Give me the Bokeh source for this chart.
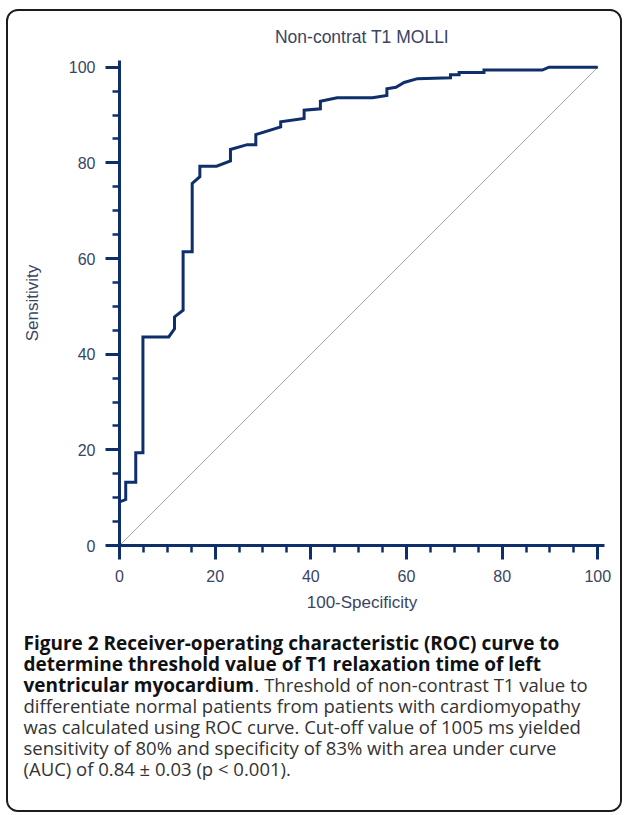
from bokeh.plotting import figure
from bokeh.layouts import column
from bokeh.models import Range1d, FixedTicker
from bokeh.core.properties import value
from bokeh.embed import file_html
from bokeh.resources import INLINE

# ---- data ----
fpr = [0, 0, 1.3, 1.3, 3.4, 3.4, 4.9, 4.9, 10.3, 11.5, 11.5, 13.3, 13.3, 15.2, 15.2,
       16.8, 16.8, 20.3, 23.2, 23.2, 26.7, 28.5, 28.5, 33.7, 33.7, 38.6, 38.6, 42.0,
       42.0, 45.5, 52.9, 55.9, 55.9, 57.8, 59.5, 62.3, 69.2, 69.2, 71.0, 71.0, 76.2,
       76.2, 88.4, 89.8, 100]
tpr = [0, 9.1, 9.6, 13.2, 13.2, 19.4, 19.4, 43.6, 43.6, 45.3, 47.8, 49.2, 61.4, 61.4,
       75.7, 77.1, 79.3, 79.3, 80.4, 82.8, 83.8, 83.8, 85.9, 87.5, 88.6, 89.3, 91.0,
       91.3, 92.9, 93.6, 93.6, 94.1, 95.5, 95.8, 96.8, 97.6, 97.8, 98.4, 98.4, 98.9,
       98.9, 99.4, 99.4, 100, 100]
diag_x = [0, 100]
diag_y = [0, 100]
major_ticks = [0, 20, 40, 60, 80, 100]
minor_ticks = list(range(0, 101, 5))

title_text = "Non-contrat T1 MOLLI"
x_label = "100-Specificity"
y_label = "Sensitivity"
caption_bold = [
    "Figure 2 Receiver-operating characteristic (ROC) curve to",
    "determine threshold value of T1 relaxation time of left",
    "ventricular myocardium",
]
caption_normal_line3 = ". Threshold of non-contrast T1 value to"
caption_normal = [
    "differentiate normal patients from patients with cardiomyopathy",
    "was calculated using ROC curve. Cut-off value of 1005 ms yielded",
    "sensitivity of 80% and specificity of 83% with area under curve",
    "(AUC) of 0.84 \u00b1 0.03 (p < 0.001).",
]

NAVY = "#0f2f6b"
TXT = "#3a4562"
AX_FONT = "Liberation Sans"
CAP_FONT = "Open Sans"

# ---------------- chart ----------------
p = figure(width=612, height=620, output_backend="svg", toolbar_location=None,
           x_range=Range1d(0, 101.4), y_range=Range1d(0, 101.4),
           min_border_left=111, min_border_right=16, min_border_top=49,
           min_border_bottom=86)

p.title.text = title_text
p.title.align = "center"
p.title.text_font = AX_FONT
p.title.text_font_size = "17.5px"
p.title.text_font_style = "normal"
p.title.text_color = TXT
p.title.standoff = 27
p.title.offset = -5

p.xgrid.visible = False
p.ygrid.visible = False
p.outline_line_color = None
p.background_fill_color = "white"
p.border_fill_color = "white"

for ax in (p.xaxis[0], p.yaxis[0]):
    ax.ticker = FixedTicker(ticks=major_ticks, minor_ticks=minor_ticks)
    ax.axis_line_color = NAVY
    ax.axis_line_width = 3
    ax.major_tick_line_color = NAVY
    ax.major_tick_line_width = 3
    ax.minor_tick_line_color = NAVY
    ax.minor_tick_line_width = 2.5
    ax.major_tick_in = 0
    ax.major_tick_out = 14
    ax.minor_tick_in = 0
    ax.minor_tick_out = 7
    ax.major_label_text_font = AX_FONT
    ax.major_label_text_font_size = "16px"
    ax.major_label_text_color = TXT
    ax.axis_label_text_font = AX_FONT
    ax.axis_label_text_font_size = "17px"
    ax.axis_label_text_font_style = "normal"
    ax.axis_label_text_color = TXT

p.xaxis.axis_label = x_label
p.yaxis.axis_label = y_label
p.xaxis.major_label_standoff = 10
p.yaxis.major_label_standoff = 10
p.xaxis.axis_label_standoff = 8
p.yaxis.axis_label_standoff = 24

p.line(diag_x, diag_y, line_color="#a4a6ae", line_width=1)
p.line(fpr, tpr, line_color=NAVY, line_width=3, line_join="miter")

# ---------------- caption ----------------
cap = figure(width=612, height=179, output_backend="svg", toolbar_location=None,
             x_range=Range1d(8, 620), y_range=Range1d(810, 631),
             x_axis_type=None, y_axis_type=None, min_border=0,
             min_border_left=0, min_border_right=0, min_border_top=0,
             min_border_bottom=0)
for fig in (p, cap):
    try:
        fig.frame_align = False
    except Exception:
        pass
cap.xgrid.visible = False
cap.ygrid.visible = False
cap.outline_line_color = None
cap.background_fill_color = "white"
cap.border_fill_color = "white"

FS_BOLD = "19px"
FS_NORM = "18.5px"
y0 = 642
dy = 21
bold_x = [23] * len(caption_bold)
bold_y = [y0 + i * dy for i in range(len(caption_bold))]
cap.text(bold_x, bold_y, text=caption_bold, text_font=value(CAP_FONT),
         text_font_style="bold", text_font_size=FS_BOLD, text_color="#111111",
         text_baseline="middle", text_align="left")
cap.text([254], [y0 + 2 * dy], text=[caption_normal_line3], text_font=value(CAP_FONT),
         text_font_size=FS_NORM, text_color="#333333",
         text_baseline="middle", text_align="left")
norm_x = [23] * len(caption_normal)
norm_y = [y0 + (3 + j) * dy for j in range(len(caption_normal))]
cap.text(norm_x, norm_y, text=caption_normal, text_font=value(CAP_FONT),
         text_font_size=FS_NORM, text_color="#333333",
         text_baseline="middle", text_align="left")

layout = column(p, cap, spacing=0,
                styles={"border": "2px solid #1c1c1c", "border-radius": "12px",
                        "margin-left": "6px", "margin-top": "9px",
                        "overflow": "hidden", "background-color": "white"})

open("out.html", "w").write(file_html(layout, INLINE))
